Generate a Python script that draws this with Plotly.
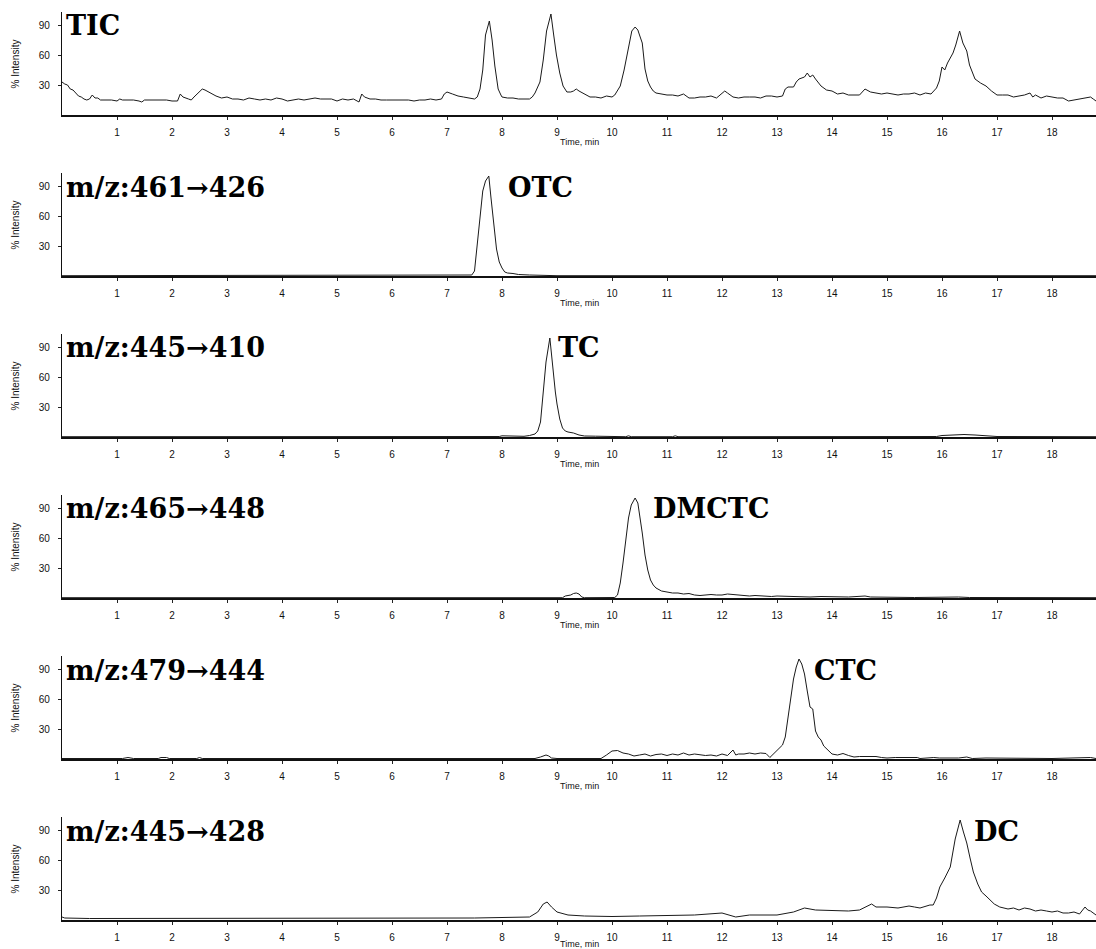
import plotly.graph_objects as go

# ---------------- data ----------------
time_ticks = list(range(1, 19))
intensity_ticks = [30, 60, 90]

tic_t = [0.0, 0.05, 0.1, 0.15, 0.2, 0.25, 0.3, 0.35, 0.4, 0.45, 0.5, 0.55, 0.6, 0.65, 0.7, 0.8, 0.9, 1.0, 1.05, 1.1,
         1.2, 1.3, 1.4, 1.45, 1.5, 1.6, 1.7, 1.8, 1.9, 2.0, 2.1, 2.15, 2.2, 2.3, 2.35, 2.4, 2.5, 2.55, 2.6, 2.7,
         2.8, 2.9, 3.0, 3.1, 3.2, 3.3, 3.4, 3.5, 3.6, 3.7, 3.8, 3.9, 4.0, 4.1, 4.2, 4.3, 4.4, 4.5, 4.6, 4.7,
         4.8, 4.9, 5.0, 5.1, 5.2, 5.3, 5.4, 5.45, 5.5, 5.6, 5.7, 5.8, 5.9, 6.0, 6.1, 6.2, 6.3, 6.4, 6.5, 6.6,
         6.7, 6.8, 6.9, 6.95, 7.0, 7.1, 7.2, 7.3, 7.4, 7.5, 7.55, 7.6, 7.65, 7.7, 7.77, 7.82, 7.87, 7.93, 7.98, 8.0,
         8.1, 8.2, 8.3, 8.4, 8.5, 8.55, 8.6, 8.69, 8.75, 8.81, 8.89, 8.94, 8.99, 9.05, 9.11, 9.18, 9.25, 9.3, 9.35, 9.4,
         9.5, 9.6, 9.7, 9.8, 9.9, 10.0, 10.05, 10.1, 10.15, 10.22, 10.3, 10.36, 10.42, 10.47, 10.5, 10.55, 10.6, 10.65, 10.7, 10.75,
         10.8, 10.9, 11.0, 11.1, 11.2, 11.3, 11.4, 11.5, 11.6, 11.7, 11.8, 11.9, 12.0, 12.05, 12.1, 12.2, 12.3, 12.4, 12.5, 12.6,
         12.7, 12.8, 12.9, 13.0, 13.1, 13.15, 13.2, 13.3, 13.35, 13.4, 13.5, 13.55, 13.6, 13.65, 13.7, 13.8, 13.9, 14.0, 14.1, 14.2,
         14.3, 14.4, 14.5, 14.6, 14.7, 14.8, 14.9, 15.0, 15.1, 15.2, 15.3, 15.4, 15.5, 15.6, 15.7, 15.8, 15.9, 15.95, 16.0, 16.05,
         16.1, 16.2, 16.25, 16.32, 16.38, 16.45, 16.5, 16.55, 16.6, 16.7, 16.8, 16.9, 17.0, 17.1, 17.2, 17.3, 17.4, 17.5, 17.6, 17.65,
         17.7, 17.8, 17.9, 18.0, 18.1, 18.2, 18.3, 18.4, 18.5, 18.6, 18.7, 18.75, 18.8]
tic_v = [33, 31, 30, 26, 25, 22, 19, 18, 16, 15, 16, 20, 17, 17, 15, 15, 15, 14, 16, 15,
         15, 15, 14, 13, 15, 15, 15, 15, 15, 14, 14, 21, 18, 16, 15, 18, 24, 26, 25, 22,
         19, 17, 18, 16, 16, 15, 17, 16, 15, 16, 15, 17, 16, 14, 15, 16, 15, 16, 17, 16,
         16, 16, 14, 16, 15, 16, 13, 21, 18, 16, 16, 15, 15, 15, 15, 15, 15, 14, 15, 15,
         16, 15, 16, 21, 23, 21, 19, 18, 17, 16, 18, 26, 45, 80, 94, 75, 49, 26, 20, 18,
         17, 17, 16, 16, 16, 18, 22, 33, 55, 84, 101, 80, 60, 42, 29, 23, 23, 24, 26, 24,
         21, 18, 18, 17, 19, 18, 20, 24, 29, 45, 67, 84, 88, 85, 80, 72, 46, 34, 28, 24,
         22, 21, 20, 20, 19, 21, 17, 17, 18, 18, 19, 17, 22, 24, 22, 18, 17, 18, 18, 18,
         17, 19, 19, 18, 19, 26, 28, 28, 33, 36, 38, 42, 38, 40, 36, 29, 25, 24, 21, 22,
         20, 20, 20, 26, 23, 22, 21, 22, 21, 20, 21, 21, 22, 20, 22, 21, 27, 34, 48, 45,
         52, 62, 70, 84, 72, 64, 50, 42, 36, 32, 29, 24, 20, 20, 20, 18, 19, 20, 22, 18,
         20, 17, 19, 18, 17, 17, 14, 15, 16, 17, 18, 16, 14]

otc_t = [0.0, 7.4, 7.45, 7.5, 7.55, 7.6, 7.65, 7.7, 7.76, 7.8, 7.85, 7.9, 7.95, 8.0, 8.05, 8.1, 8.2, 8.3, 8.5, 8.7,
         8.85, 9.0, 18.8]
otc_v = [0.3, 0.3, 1, 5, 30, 58, 85, 95, 100, 78, 50, 27, 14, 8, 4, 3, 2.5, 1.5, 1, 0.8,
         0.5, 0.3, 0.3]

tc_t = [0.0, 7.8, 7.95, 8.0, 8.1, 8.2, 8.4, 8.5, 8.6, 8.65, 8.7, 8.75, 8.8, 8.87, 8.92, 8.97, 9.0, 9.05, 9.1, 9.15,
        9.2, 9.3, 9.4, 9.5, 9.7, 10.0, 10.25, 10.3, 10.35, 11.1, 11.15, 11.2, 12.05, 12.1, 12.15, 15.4, 15.45, 15.5, 15.9, 16.0,
        16.2, 16.4, 16.6, 16.8, 17.0, 18.8]
tc_v = [0.3, 0.3, 0.5, 1.2, 1, 0.8, 0.7, 1.5, 3, 6, 15, 45, 75, 99, 70, 45, 33, 18, 9, 6,
        5, 4, 2, 1, 0.8, 0.5, 0.3, 1.2, 0.3, 0.3, 1.2, 0.3, 0.3, 1, 0.3, 0.3, 1, 0.3, 0.5, 1.5,
        2, 2.5, 2, 1.5, 0.5, 0.3]

dmctc_t = [0.0, 9.1, 9.15, 9.25, 9.3, 9.35, 9.4, 9.45, 9.5, 10.05, 10.1, 10.15, 10.2, 10.25, 10.3, 10.35, 10.42, 10.47, 10.5, 10.55,
           10.6, 10.65, 10.7, 10.75, 10.8, 10.9, 11.0, 11.1, 11.2, 11.3, 11.4, 11.5, 11.6, 11.7, 11.8, 11.9, 12.0, 12.1, 12.2, 12.3,
           12.4, 12.5, 12.6, 12.7, 12.8, 12.9, 13.0, 13.2, 13.4, 13.6, 13.8, 14.0, 14.3, 14.6, 14.7, 15.0, 15.5, 16.3, 16.5, 18.8]
dmctc_v = [0.3, 0.3, 2, 3, 4.5, 5, 4, 1, 0.3, 0.5, 3, 15, 35, 60, 80, 93, 100, 95, 85, 65,
           43, 28, 18, 13, 10, 7, 6, 5, 5, 4, 4.5, 3, 2.5, 3, 3.5, 3, 3, 4, 3.5, 3,
           2.5, 2, 2.5, 2, 2, 1.5, 2, 1.5, 1.5, 1, 1.5, 1, 1, 2, 1, 0.8, 0.5, 1, 0.5, 0.3]

ctc_t = [0.0, 1.1, 1.2, 1.3, 1.75, 1.8, 1.9, 1.95, 2.45, 2.5, 2.55, 5.4, 5.45, 5.5, 7.1, 7.15, 7.2, 8.6, 8.7, 8.8,
         8.85, 8.9, 9.0, 9.8, 9.9, 10.0, 10.1, 10.2, 10.3, 10.4, 10.5, 10.6, 10.7, 10.8, 10.9, 11.0, 11.1, 11.2, 11.3, 11.4,
         11.5, 11.6, 11.7, 11.8, 11.9, 12.0, 12.1, 12.2, 12.25, 12.3, 12.4, 12.5, 12.6, 12.7, 12.8, 12.87, 12.95, 13.0, 13.1, 13.15,
         13.2, 13.25, 13.3, 13.35, 13.4, 13.45, 13.5, 13.55, 13.6, 13.65, 13.7, 13.75, 13.8, 13.85, 13.9, 13.95, 14.0, 14.1, 14.2, 14.3,
         14.4, 14.5, 14.6, 14.8, 14.9, 15.0, 15.15, 15.3, 15.35, 15.55, 15.6, 15.85, 15.95, 16.3, 16.45, 16.55, 16.8, 17.0, 17.4, 17.7,
         18.0, 18.7, 18.8]
ctc_v = [0.5, 0.5, 1.5, 0.5, 0.5, 1.5, 1.5, 0.5, 0.5, 1.5, 0.5, 0.5, 1, 0.5, 0.5, 1, 0.5, 0.5, 2, 4,
         3, 1, 0.5, 0.5, 4, 8, 8.5, 6, 5, 3, 4, 5, 3, 4.5, 5, 3.5, 5, 4, 6, 4,
         5, 4.5, 3.5, 4, 3, 5, 3.5, 9, 4, 5, 5, 6, 5, 6, 5.5, 1.5, 6, 8, 14, 22,
         40, 62, 80, 92, 100, 95, 85, 68, 52, 50, 28, 22, 19, 13, 10, 7, 5, 4, 5.5, 3.5,
         2, 2.5, 2.5, 2.5, 1.5, 1, 1.5, 1.5, 1, 1.5, 0.5, 1.5, 1, 1, 2, 0.5, 1, 1, 1, 1,
         0.5, 1.5, 0.5]

dc_t = [0.0, 0.05, 0.5, 1.0, 1.5, 2.0, 2.5, 3.0, 3.5, 4.0, 4.5, 5.0, 5.5, 6.0, 6.5, 7.0, 7.5, 8.0, 8.5, 8.65,
        8.75, 8.82, 8.9, 9.0, 9.2, 9.5, 10.0, 10.5, 11.0, 11.5, 12.0, 12.25, 12.5, 13.0, 13.3, 13.5, 13.7, 14.0, 14.3, 14.5,
        14.72, 14.8, 15.0, 15.2, 15.4, 15.5, 15.6, 15.78, 15.84, 15.9, 15.96, 16.05, 16.15, 16.24, 16.33, 16.39, 16.45, 16.51, 16.57, 16.65,
        16.72, 16.8, 16.87, 16.95, 17.05, 17.2, 17.3, 17.4, 17.5, 17.6, 17.7, 17.8, 17.9, 18.0, 18.1, 18.2, 18.3, 18.4, 18.5, 18.6,
        18.65, 18.7, 18.8]
dc_v = [3, 2, 1.5, 1.5, 1.5, 1.5, 1.5, 1.5, 1.5, 1.5, 1.5, 1.5, 1.5, 1.5, 1.5, 1.5, 2, 2.5, 3, 8,
        16, 18, 13, 8, 5, 4, 3.5, 4, 4.5, 5, 7, 3, 5, 5, 8, 12, 10, 9.5, 9, 10,
        16, 13, 13, 12, 14, 13, 12, 15, 15, 22, 33, 42, 53, 81, 100, 88, 77, 62, 48, 36,
        28, 24, 20, 16, 13, 11, 12, 10, 12, 11, 9, 10, 9, 8, 9, 7, 7, 8, 6, 13,
        10, 9, 5]

panel_labels = ["TIC", "m/z:461→426", "m/z:445→410", "m/z:465→448", "m/z:479→444", "m/z:445→428"]
compound_labels = [None, "OTC", "TC", "DMCTC", "CTC", "DC"]
compound_label_times = [None, 8.07, 8.98, 10.71, 13.63, 16.54]

series = [(tic_t, tic_v), (otc_t, otc_v), (tc_t, tc_v), (dmctc_t, dmctc_v), (ctc_t, ctc_v), (dc_t, dc_v)]

# ---------------- figure ----------------
W, H = 1096, 949
fig = go.Figure()

tick_font = dict(family="Liberation Sans Narrow, Liberation Sans, Arial", size=10, color="#111")
label_font = dict(family="DejaVu Serif, Liberation Serif, serif", size=27, color="#000")
small_font = dict(family="Liberation Sans, Arial", size=10, color="#111")
title_font = dict(family="Liberation Sans, Arial", size=9, color="#111")

annotations = []
for k, (t, v) in enumerate(series):
    n = "" if k == 0 else str(k + 1)
    bottom = 115 + 161 * k
    top = bottom - 103
    fig.add_trace(go.Scatter(x=t, y=v, mode="lines",
                             line=dict(color="#1a1a1a", width=1),
                             xaxis="x" + n, yaxis="y" + n, showlegend=False,
                             hoverinfo="skip"))
    fig.layout["xaxis" + n] = dict(
        domain=[0, 1], anchor="y" + n, range=[0, 18.8],
        tickmode="array", tickvals=time_ticks, ticktext=[str(x) for x in time_ticks],
        ticks="outside", ticklen=3, tickwidth=1, tickcolor="#222",
        showline=True, linecolor="#111", linewidth=1.6,
        showgrid=False, zeroline=False, tickfont=tick_font,
        ticklabelstandoff=4, automargin=False,
    )
    fig.layout["yaxis" + n] = dict(
        domain=[1 - bottom / H, 1 - top / H], anchor="x" + n, range=[0, 103],
        tickmode="array", tickvals=intensity_ticks, ticktext=[str(y) for y in intensity_ticks],
        ticks="outside", ticklen=3, tickwidth=1, tickcolor="#222",
        showline=True, linecolor="#111", linewidth=1.2,
        showgrid=False, zeroline=False, tickfont=tick_font,
        ticklabelstandoff=6, automargin=False,
    )
    xr = "x" + n
    yr = "y" + n
    annotations.append(dict(text="<b>%s</b>" % panel_labels[k], xref=xr, yref=yr, x=0.03, y=89,
                            xanchor="left", yanchor="middle", showarrow=False, font=label_font))
    if compound_labels[k]:
        annotations.append(dict(text="<b>%s</b>" % compound_labels[k], xref=xr, yref=yr,
                                x=compound_label_times[k], y=89,
                                xanchor="left", yanchor="middle", showarrow=False, font=label_font))
    annotations.append(dict(text="Time, min", xref=xr + " domain", yref=yr + " domain", x=0.5, y=0,
                            xanchor="center", yanchor="top", yshift=(-21 if k < 5 else -18), borderpad=0,
                            showarrow=False, font=title_font))
    annotations.append(dict(text="% Intensity", xref="paper", yref=yr + " domain", x=-0.0445, y=0.5,
                            xanchor="center", yanchor="middle", textangle=-90, showarrow=False,
                            font=small_font))

fig.update_layout(width=W, height=H, autosize=False,
                  margin=dict(l=62, r=0, t=0, b=0),
                  paper_bgcolor="white", plot_bgcolor="white",
                  annotations=annotations)

fig.write_html("out.html", config={"displayModeBar": False},
               post_script="document.body.style.margin='0';document.body.style.padding='0';"
                           "document.body.style.overflow='hidden';")
